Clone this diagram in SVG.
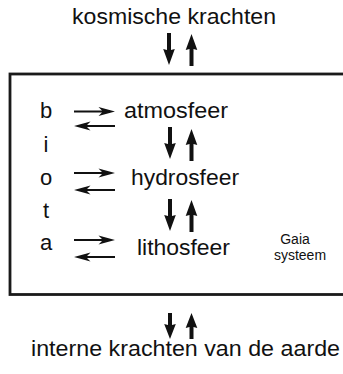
<svg xmlns="http://www.w3.org/2000/svg" xmlns:xlink="http://www.w3.org/1999/xlink" width="343" height="374" viewBox="0 0 343 374">
  <style>
    text { font-family: "Liberation Sans", Arial, Helvetica, sans-serif; fill: #111; }
    .big { font-size: 22px; }
    .small { font-size: 14px; }
    .mid { text-anchor: middle; }
    .box { fill: none; stroke: #1a1a1a; stroke-width: 2.8; }
    .arr { fill: #111; }
  </style>
  <defs>
    <!-- vertical arrow pointing down, tail at (0,0), tip at (0,32) -->
    <path id="vdown" class="arr" d="M-2,0 H2 V17 L5.8,16 L0,32 L-5.8,16 L-2,17 Z"/>
    <!-- short vertical arrow pointing down, tail at (0,0), tip at (0,26) -->
    <path id="vdownS" class="arr" d="M-2,0 H2 V12 L5.8,11 L0,26 L-5.8,11 L-2,12 Z"/>
    <!-- horizontal arrow pointing right, tail at (0,0), tip at (41,0) -->
    <path id="hright" class="arr" d="M0,-1 H28 L24.5,-4.5 L41,0 L24.5,4.5 L28,1 H0 Z"/>
  </defs>

  <g id="gaia-systeem">
    <rect class="box" x="10" y="74" width="345" height="220.5"/>
    <text class="small mid" x="295" y="244">Gaia</text>
    <text class="small mid" x="300" y="260">systeem</text>
  </g>

  <g id="kosmische-krachten">
    <text class="big" x="72" y="24" textLength="204" lengthAdjust="spacingAndGlyphs">kosmische krachten</text>
  </g>

  <g id="interne-krachten">
    <text class="big" x="31" y="356" textLength="309" lengthAdjust="spacingAndGlyphs">interne krachten van de aarde</text>
  </g>

  <g id="biota">
    <text class="big mid" x="46" y="118">b</text>
    <text class="big mid" x="46" y="152">i</text>
    <text class="big mid" x="46" y="185">o</text>
    <text class="big mid" x="46" y="218">t</text>
    <text class="big mid" x="46" y="250">a</text>
  </g>

  <g id="atmosfeer">
    <text class="big" x="124" y="118" textLength="104" lengthAdjust="spacingAndGlyphs">atmosfeer</text>
  </g>

  <g id="hydrosfeer">
    <text class="big" x="131" y="185" textLength="108" lengthAdjust="spacingAndGlyphs">hydrosfeer</text>
  </g>

  <g id="lithosfeer">
    <text class="big" x="137" y="255" textLength="93" lengthAdjust="spacingAndGlyphs">lithosfeer</text>
  </g>

  <g id="connectors">
    <!-- kosmische krachten <-> systeem -->
    <use xlink:href="#vdown" transform="translate(169,33)"/>
    <use xlink:href="#vdown" transform="translate(191.5,66) scale(1,-1)"/>
    <!-- atmosfeer <-> hydrosfeer -->
    <use xlink:href="#vdown" transform="translate(170,127)"/>
    <use xlink:href="#vdown" transform="translate(191.5,161) scale(1,-1)"/>
    <!-- hydrosfeer <-> lithosfeer -->
    <use xlink:href="#vdown" transform="translate(170,199)"/>
    <use xlink:href="#vdown" transform="translate(191.5,232) scale(1,-1)"/>
    <!-- systeem <-> interne krachten -->
    <use xlink:href="#vdownS" transform="translate(170,313)"/>
    <use xlink:href="#vdownS" transform="translate(191.5,339) scale(1,-1)"/>
    <!-- biota <-> atmosfeer -->
    <use xlink:href="#hright" transform="translate(74,111.5)"/>
    <use xlink:href="#hright" transform="translate(115,126) scale(-1,1)"/>
    <!-- biota <-> hydrosfeer -->
    <use xlink:href="#hright" transform="translate(74,173)"/>
    <use xlink:href="#hright" transform="translate(115,190) scale(-1,1)"/>
    <!-- biota <-> lithosfeer -->
    <use xlink:href="#hright" transform="translate(74,240)"/>
    <use xlink:href="#hright" transform="translate(115,257) scale(-1,1)"/>
  </g>
</svg>
